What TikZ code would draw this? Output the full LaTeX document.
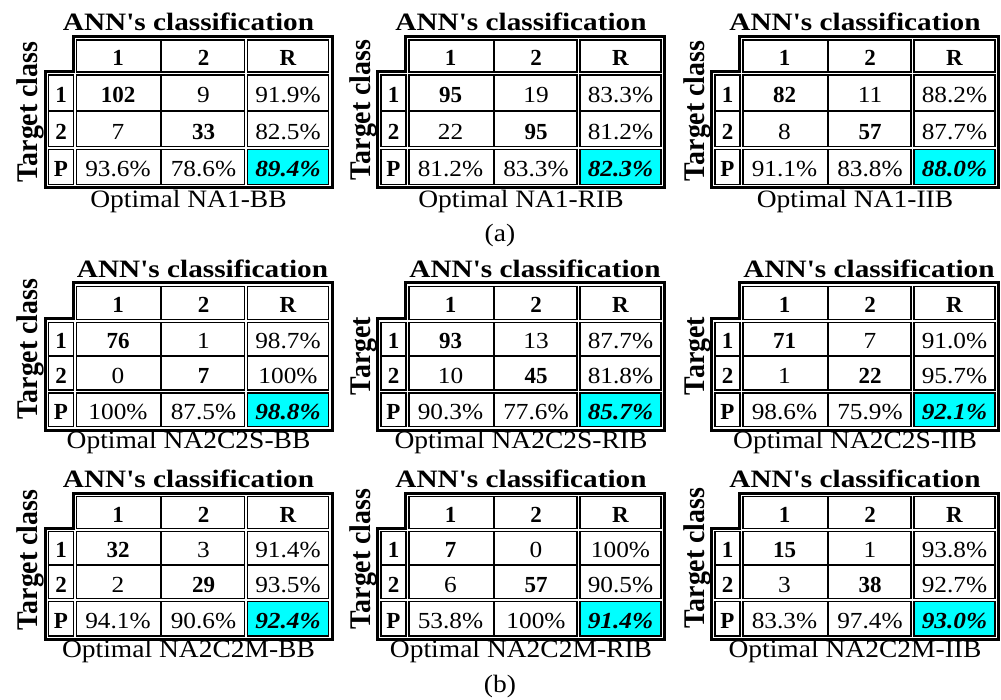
\documentclass[tikz,border=0pt]{standalone}
\usepackage{fontspec}
\setmainfont{Liberation Serif}
\usepackage{graphicx}
\definecolor{cellcyan}{RGB}{0,255,255}
\tikzset{
  blk/.style={draw=black, line width=1.5pt, fill=white},
  blkc/.style={draw=black, line width=1.5pt, fill=cellcyan},
  sepline/.style={draw=black, line width=2pt},
  tframe/.style={draw=black, line width=3pt, line join=miter},
  val/.style={anchor=base, inner sep=0pt, font=\fontsize{23}{25}\selectfont},
  bval/.style={anchor=base, inner sep=0pt, font=\fontsize{23}{25}\selectfont\bfseries},
  tval/.style={anchor=base, inner sep=0pt, font=\fontsize{23}{25}\selectfont\bfseries\itshape},
  ttltext/.style={anchor=base, inner sep=0pt, font=\fontsize{25}{27}\selectfont\bfseries},
  captext/.style={anchor=base, inner sep=0pt, font=\fontsize{25}{27}\selectfont},
  tgttext/.style={anchor=base, inner sep=0pt, rotate=90, font=\fontsize{30}{32}\selectfont\bfseries},
}
\newcommand\RX[1]{\scalebox{1.1}[1]{#1}}
\newcommand\BX[1]{#1}
\newcommand\TX[1]{\scalebox{1.17}[1]{#1}}
\newcommand\GX[1]{\scalebox{0.93}[1]{#1}}
\newcommand\cmtable[8]{%
  \def\cmp{#1}%
  \pgfmathsetmacro\qxa{#2}\pgfmathsetmacro\qxb{#2+28}\pgfmathsetmacro\qxc{#2+114}%
  \pgfmathsetmacro\qxd{#2+199}\pgfmathsetmacro\qxe{#2+283}%
  \pgfmathsetmacro\qya{#3}\pgfmathsetmacro\qyb{#3+#4}\pgfmathsetmacro\qyc{\qyb+#5}%
  \pgfmathsetmacro\qyd{\qyc+#6}\pgfmathsetmacro\qye{\qyd+#7}%
  \pgfmathsetmacro\qxm{(\qxa+\qxe)/2}\pgfmathsetmacro\qxt{\qxm+#8}%
  \pgfmathsetmacro\qcl{(\qxa+\qxb)/2}\pgfmathsetmacro\qca{(\qxb+\qxc)/2}%
  \pgfmathsetmacro\qcb{(\qxc+\qxd)/2}\pgfmathsetmacro\qcr{(\qxd+\qxe)/2}%
  \pgfmathsetmacro\qrh{(\qya+\qyb)/2+10}\pgfmathsetmacro\qra{(\qyb+\qyc)/2+10}%
  \pgfmathsetmacro\qrb{(\qyc+\qyd)/2+10}\pgfmathsetmacro\qrp{(\qyd+\qye)/2+10}%
  \draw[tframe] ({\qxb-2},{\qya-2}) -- ({\qxe+2},{\qya-2}) -- ({\qxe+2},{\qye+2})
     -- ({\qxa-2},{\qye+2}) -- ({\qxa-2},{\qyb-2}) -- ({\qxb-2},{\qyb-2}) -- cycle;
  % blocks
  \path[blk] ({\qxb+1.3},{\qya+1.3}) rectangle ({\qxd-1.3},{\qyb-1.3});
  \path[blk] ({\qxd+1.3},{\qya+1.3}) rectangle ({\qxe-1.3},{\qyb-1.3});
  \path[blk] ({\qxa+1.3},{\qyb+1.3}) rectangle ({\qxb-1.3},{\qyd-1.3});
  \path[blk] ({\qxa+1.3},{\qyd+1.3}) rectangle ({\qxb-1.3},{\qye-1.3});
  \path[blk] ({\qxb+1.3},{\qyb+1.3}) rectangle ({\qxd-1.3},{\qyd-1.3});
  \path[blk] ({\qxd+1.3},{\qyb+1.3}) rectangle ({\qxe-1.3},{\qyd-1.3});
  \path[blk] ({\qxb+1.3},{\qyd+1.3}) rectangle ({\qxd-1.3},{\qye-1.3});
  \path[blkc] ({\qxd+1.3},{\qyd+1.3}) rectangle ({\qxe-1.3},{\qye-1.3});
  % single inner lines
  \draw[sepline] (\qxc,{\qya+1.3}) -- (\qxc,{\qyb-1.3});
  \draw[sepline] (\qxc,{\qyb+1.3}) -- (\qxc,{\qyd-1.3});
  \draw[sepline] (\qxc,{\qyd+1.3}) -- (\qxc,{\qye-1.3});
  \draw[sepline] ({\qxa+1.3},\qyc) -- ({\qxb-1.3},\qyc);
  \draw[sepline] ({\qxb+1.3},\qyc) -- ({\qxd-1.3},\qyc);
  \draw[sepline] ({\qxd+1.3},\qyc) -- ({\qxe-1.3},\qyc);
  % headers
  \node[bval] (\cmp h1) at (\qca,\qrh) {\BX{1}};
  \node[bval] (\cmp h2) at (\qcb,\qrh) {\BX{2}};
  \node[bval] (\cmp hR) at (\qcr,\qrh) {\BX{R}};
  \node[bval] (\cmp l1) at (\qcl,\qra) {\BX{1}};
  \node[bval] (\cmp l2) at (\qcl,\qrb) {\BX{2}};
  \node[bval] (\cmp lP) at (\qcl,\qrp) {\BX{P}};
  \node[ttltext] (\cmp ttl) at (\qxt,{\qya-7.5}) {\TX{ANN\textquotesingle s classification}};
}
\newcommand\cmvals[9]{%
  \node[bval] (\cmp v11) at (\qca,\qra) {\BX{#1}};
  \node[val]  (\cmp v12) at (\qcb,\qra) {\RX{#2}};
  \node[val]  (\cmp v13) at (\qcr,\qra) {\RX{#3}};
  \node[val]  (\cmp v21) at (\qca,\qrb) {\RX{#4}};
  \node[bval] (\cmp v22) at (\qcb,\qrb) {\BX{#5}};
  \node[val]  (\cmp v23) at (\qcr,\qrb) {\RX{#6}};
  \node[val]  (\cmp p1) at (\qca,\qrp) {\RX{#7}};
  \node[val]  (\cmp p2) at (\qcb,\qrp) {\RX{#8}};
  \node[tval] (\cmp pt) at (\qcr,\qrp) {\RX{#9}};
}
\newcommand\cmtext[4]{%
  \node[captext] (\cmp cap) at (\qxm,#2) {\RX{#1}};
  \node[tgttext] (\cmp tgt) at ({\qxa-9.5},#4) {\GX{#3}};
}
\begin{document}
\begin{tikzpicture}[x=1pt,y=-1pt]
\useasboundingbox[fill=white] (0,0) rectangle (1001,700);
% row (a)
\cmtable{ta}{47}{38.5}{35}{37.5}{37}{38}{0}
\cmvals{102}{9}{91.9\%}{7}{33}{82.5\%}{93.6\%}{78.6\%}{89.4\%}
\cmtext{Optimal NA1-BB}{208}{Target class}{112}
\cmtable{tb}{379.5}{38.5}{35}{37.5}{37}{38}{0}
\cmvals{95}{19}{83.3\%}{22}{95}{81.2\%}{81.2\%}{83.3\%}{82.3\%}
\cmtext{Optimal NA1-RIB}{208}{Target class}{110}
\cmtable{tc}{713.5}{38.5}{35}{37.5}{37}{38}{0}
\cmvals{82}{11}{88.2\%}{8}{57}{87.7\%}{91.1\%}{83.8\%}{88.0\%}
\cmtext{Optimal NA1-IIB}{208}{Target class}{111}
\node[captext] (lblA) at (500,242) {\RX{(a)}};
% row (b) top
\cmtable{td}{47}{285}{36}{35.5}{35}{36.5}{14}
\cmvals{76}{1}{98.7\%}{0}{7}{100\%}{100\%}{87.5\%}{98.8\%}
\cmtext{Optimal NA2C2S-BB}{448}{Target class}{349}
\cmtable{te}{379.5}{285}{36}{35.5}{35}{36.5}{14}
\cmvals{93}{13}{87.7\%}{10}{45}{81.8\%}{90.3\%}{77.6\%}{85.7\%}
\cmtext{Optimal NA2C2S-RIB}{448}{Target}{356}
\cmtable{tf}{713.5}{285}{36}{35.5}{35}{36.5}{14}
\cmvals{71}{7}{91.0\%}{1}{22}{95.7\%}{98.6\%}{75.9\%}{92.1\%}
\cmtext{Optimal NA2C2S-IIB}{448}{Target}{356}
% row (b) bottom
\cmtable{tg}{47}{495}{35}{35}{35}{37.5}{0}
\cmvals{32}{3}{91.4\%}{2}{29}{93.5\%}{94.1\%}{90.6\%}{92.4\%}
\cmtext{Optimal NA2C2M-BB}{657}{Target class}{560}
\cmtable{th}{379.5}{495}{35}{35}{35}{37.5}{0}
\cmvals{7}{0}{100\%}{6}{57}{90.5\%}{53.8\%}{100\%}{91.4\%}
\cmtext{Optimal NA2C2M-RIB}{657}{Target class}{559}
\cmtable{ti}{713.5}{495}{35}{35}{35}{37.5}{0}
\cmvals{15}{1}{93.8\%}{3}{38}{92.7\%}{83.3\%}{97.4\%}{93.0\%}
\cmtext{Optimal NA2C2M-IIB}{657}{Target class}{558}
\node[captext] (lblB) at (500,692) {\RX{(b)}};
\end{tikzpicture}
\end{document}
